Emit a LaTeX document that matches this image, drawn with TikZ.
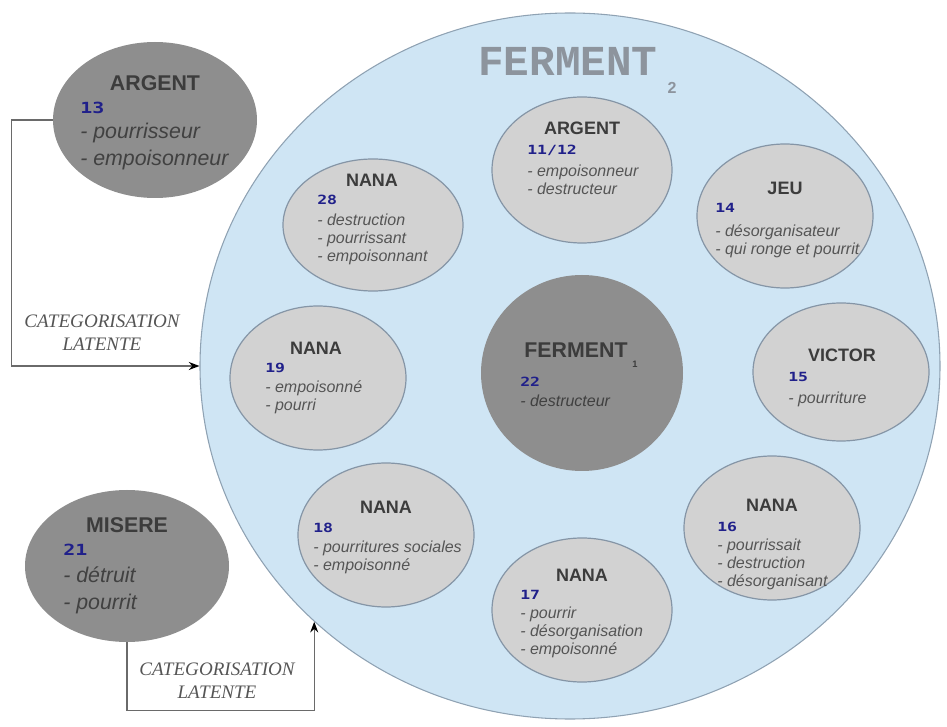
\documentclass[tikz,border=0pt]{standalone}
\usepackage{fontspec}
\setmainfont{Liberation Sans}
\newfontfamily\serifit{Liberation Serif}
\newfontfamily\monob{Liberation Mono}
\newfontfamily\numfont{DejaVu Sans Mono}[FakeStretch=1.3]
\usetikzlibrary{shapes.geometric,arrows.meta}
\definecolor{bigf}{HTML}{CFE5F4}
\definecolor{bigb}{HTML}{8FA2B3}
\definecolor{innf}{HTML}{D2D2D2}
\definecolor{innb}{HTML}{8595A6}
\definecolor{darkf}{HTML}{8E8E8E}
\definecolor{ttlc}{HTML}{3C3C3C}
\definecolor{itmc}{HTML}{555555}
\definecolor{numc}{HTML}{20208A}
\definecolor{fermc}{HTML}{8D949D}
\definecolor{connc}{HTML}{6A6A6A}
\begin{document}
\begin{tikzpicture}[x=0.75pt,y=-0.75pt,
  bigc/.style={ellipse, fill=bigf, draw=bigb, line width=0.8pt, inner sep=0pt},
  innc/.style={ellipse, fill=innf, draw=innb, line width=0.9pt, inner sep=0pt},
  darkc/.style={ellipse, fill=darkf, draw=none, inner sep=0pt},
  ttl/.style={inner sep=0pt, text=ttlc, font=\fontsize{13.5}{16}\selectfont\bfseries},
  bigttl/.style={inner sep=0pt, text=ttlc, font=\fontsize{16}{19}\selectfont\bfseries},
  num/.style={inner sep=0pt, anchor=west, text=numc, font=\numfont\bfseries\fontsize{9.5}{10}\selectfont},
  bignum/.style={inner sep=0pt, anchor=west, text=numc, font=\numfont\bfseries\fontsize{11.5}{12}\selectfont},
  itm/.style={inner sep=0pt, anchor=north west, align=left, text=itmc, font=\fontsize{12}{13.5}\selectfont\itshape},
  bigitm/.style={inner sep=0pt, anchor=north west, align=left, text=ttlc!80!itmc, font=\fontsize{16}{20}\selectfont\itshape},
  catlab/.style={inner sep=0pt, align=center, text=itmc, font=\serifit\itshape\fontsize{14.3}{17}\selectfont},
  conn/.style={draw=connc, line width=0.9pt, -{Stealth[length=8pt,width=6pt,color=black,fill=black]}}
]
\useasboundingbox (0,0) rectangle (947,727);

% big circle FERMENT 2
\node[bigc, minimum width=555pt, minimum height=529.5pt] (big) at (570,366) {};
\node[inner sep=0pt, text=fermc, font=\monob\bfseries\fontsize{32}{34}\selectfont] (f2t) at (568,61) {FERMENT};
\node[inner sep=0pt, text=fermc, font=\fontsize{12}{14}\selectfont\bfseries] (f2s) at (672,88) {2};

% outer ellipses
\node[darkc, minimum width=153pt, minimum height=117pt] (a13) at (155,120) {};
\node[bigttl] (a13t) at (155,83) {ARGENT};
\node[bignum] (a13n) at (80,108) {13};
\node[bigitm] (a13i) at (80,123) {- pourrisseur\\- empoisonneur};

\node[darkc, minimum width=153pt, minimum height=114pt] (mis) at (127,566) {};
\node[bigttl] (mist) at (127,525) {MISERE};
\node[bignum] (misn) at (63,550) {21};
\node[bigitm] (misi) at (63,567) {- détruit\\- pourrit};

% connectors
\draw[conn] (a13.west) -- ++(-41,0) |- (big.west);
\node[catlab] (cat1) at (102,333) {CATEGORISATION\\LATENTE};
\draw[conn] (mis.south) -- ++(0,68) -| (big.-135.6);
\node[catlab] (cat2) at (217,681) {CATEGORISATION\\LATENTE};

% FERMENT 1
\node[darkc, minimum width=151.5pt, minimum height=147pt] (f1) at (582,373) {};
\node[bigttl] (f1t) at (576,350) {FERMENT};
\node[inner sep=0pt, text=ttlc, font=\fontsize{7}{8}\selectfont\bfseries] (f1s) at (635,364) {1};
\node[num] (f1n) at (520,382) {22};
\node[itm, text=ttlc!85!itmc] (f1i) at (520,395) {- destructeur};

% ARGENT 11/12
\node[innc, minimum width=135pt, minimum height=109.5pt] (a11) at (582,170) {};
\node[ttl] (a11t) at (582,128) {ARGENT};
\node[num] (a11n) at (527,150) {11/12};
\node[itm] (a11i) at (527,165) {- empoisonneur\\- destructeur};

% JEU
\node[innc, minimum width=132pt, minimum height=108pt] (jeu) at (785,216) {};
\node[ttl] (jeut) at (785,188) {JEU};
\node[num] (jeun) at (715,208) {14};
\node[itm] (jeui) at (715,224) {- désorganisateur\\- qui ronge et pourrit};

% VICTOR
\node[innc, minimum width=132pt, minimum height=103.5pt] (vic) at (841,372) {};
\node[ttl] (vict) at (842,355) {VICTOR};
\node[num] (vicn) at (788,377) {15};
\node[itm] (vici) at (788,392) {- pourriture};

% NANA 16
\node[innc, minimum width=132pt, minimum height=108pt] (n16) at (772,528) {};
\node[ttl] (n16t) at (772,505) {NANA};
\node[num] (n16n) at (717,527) {16};
\node[itm] (n16i) at (717,539) {- pourrissait\\- destruction\\- désorganisant};

% NANA 17
\node[innc, minimum width=135pt, minimum height=108pt] (n17) at (582,610) {};
\node[ttl] (n17t) at (582,575) {NANA};
\node[num] (n17n) at (520,595) {17};
\node[itm] (n17i) at (520,607) {- pourrir\\- désorganisation\\- empoisonné};

% NANA 18
\node[innc, minimum width=132pt, minimum height=108pt] (n18) at (386,535) {};
\node[ttl] (n18t) at (386,507) {NANA};
\node[num] (n18n) at (313,528) {18};
\node[itm] (n18i) at (313,541) {- pourritures sociales\\- empoisonné};

% NANA 19
\node[innc, minimum width=132pt, minimum height=108pt] (n19) at (318,378) {};
\node[ttl] (n19t) at (316,348) {NANA};
\node[num] (n19n) at (265,368) {19};
\node[itm] (n19i) at (265,380) {- empoisonné\\- pourri};

% NANA 28
\node[innc, minimum width=135pt, minimum height=99pt] (n28) at (373,225) {};
\node[ttl] (n28t) at (372,180) {NANA};
\node[num] (n28n) at (317,200) {28};
\node[itm] (n28i) at (317,214) {- destruction\\- pourrissant\\- empoisonnant};
\end{tikzpicture}
\end{document}
